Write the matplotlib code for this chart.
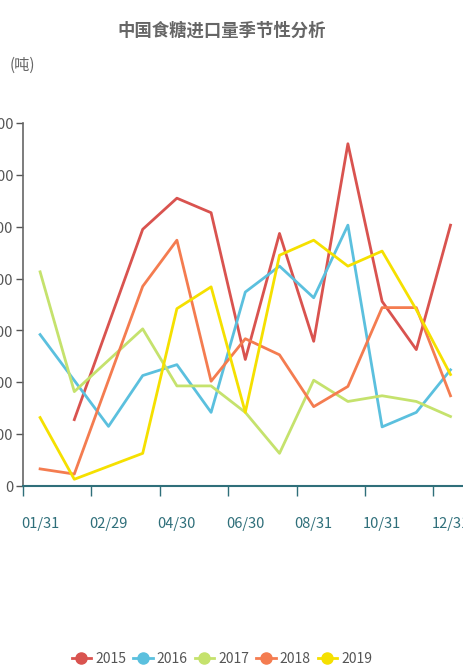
import numpy as np
import matplotlib.pyplot as plt
from matplotlib.lines import Line2D
from matplotlib.ticker import FuncFormatter

plt.rcParams['font.family'] = ['Liberation Sans Narrow', 'Noto Sans CJK SC', 'DejaVu Sans']

# categories (13: both 02/28 and 02/29 appear because of leap years)
dates = ["01/31", "02/28", "02/29", "03/31", "04/30", "05/31", "06/30",
         "07/31", "08/31", "09/30", "10/31", "11/30", "12/31"]
nan = np.nan
# monthly imports, tonnes
y2015 = [nan, 128000, nan, 495000, 555000, 527000, 244000, 487000, 279000, 660000, 356000, 263000, 503000]
y2016 = [292000, nan, 115000, 213000, 234000, 142000, 374000, 424000, 363000, 503000, 114000, 142000, 224000]
y2017 = [413000, 182000, nan, 303000, 193000, 193000, 142000, 63000, 204000, 163000, 174000, 163000, 134000]
y2018 = [33000, 23000, nan, 385000, 474000, 202000, 284000, 253000, 153000, 192000, 344000, 344000, 174000]
y2019 = [132000, 13000, nan, 63000, 342000, 384000, 142000, 445000, 474000, 424000, 453000, 340000, 215000]

years = ["2015", "2016", "2017", "2018", "2019"]
series = [y2015, y2016, y2017, y2018, y2019]
colors = ["#d9534f", "#5bc0de", "#c5e26d", "#f47c50", "#f5e000"]

W, H = 464, 671
fig = plt.figure(figsize=(W / 100, H / 100), dpi=100)
ax = fig.add_axes([23 / W, (H - 486) / H, 444.6 / W, 363 / H])

x = np.arange(len(dates))
for name, vals, c in zip(years, series, colors):
    v = np.array(vals, dtype=float)
    ok = ~np.isnan(v)
    ax.plot(x[ok], v[ok], color=c, lw=2, zorder=3)

ax.set_xlim(-0.5, len(dates) - 0.5)
ax.set_ylim(0, 700000)
ax.set_yticks(np.arange(0, 700001, 100000))
ax.yaxis.set_major_formatter(FuncFormatter(lambda v, p: "{:,.0f}".format(v)))

# x axis: ticks at band borders, labels in band centers
ax.set_xticks(np.arange(-0.5, len(dates) - 1, 2))
ax.set_xticklabels([])
ax.set_xticks(x[::2], minor=True)
ax.set_xticklabels(dates[::2], minor=True)
teal = "#2f6f7a"
ax.tick_params(axis='x', which='major', length=7, width=1, color=teal)
ax.tick_params(axis='x', which='minor', length=0, pad=22, labelsize=10.5, labelcolor=teal)
ax.tick_params(axis='y', length=5, width=1, color="#555555", labelsize=10.5,
               labelcolor="#555555", pad=2)

for s in ['top', 'right']:
    ax.spines[s].set_visible(False)
ax.spines['bottom'].set_color(teal)
ax.spines['bottom'].set_linewidth(1.5)
ax.spines['left'].set_color("#666666")
ax.spines['left'].set_linewidth(1.2)

fig.text(222 / W, 1 - 31 / H, "中国食糖进口量季节性分析", ha='center', va='center',
         fontsize=12.5, fontweight='bold', color="#666666")
fig.text(22 / W, 1 - 65 / H, "(吨)", ha='center', va='center', fontsize=11, color="#666666")

handles = [Line2D([], [], color=c, lw=2, marker='o', markersize=8) for c in colors]
fig.legend(handles, years, loc='center', bbox_to_anchor=(222 / W, 1 - 659 / H), ncol=5,
           frameon=False, fontsize=10, handlelength=1.4, handletextpad=0.3,
           columnspacing=0.5, labelcolor="#555555")

fig.savefig("out.png", dpi=100)
